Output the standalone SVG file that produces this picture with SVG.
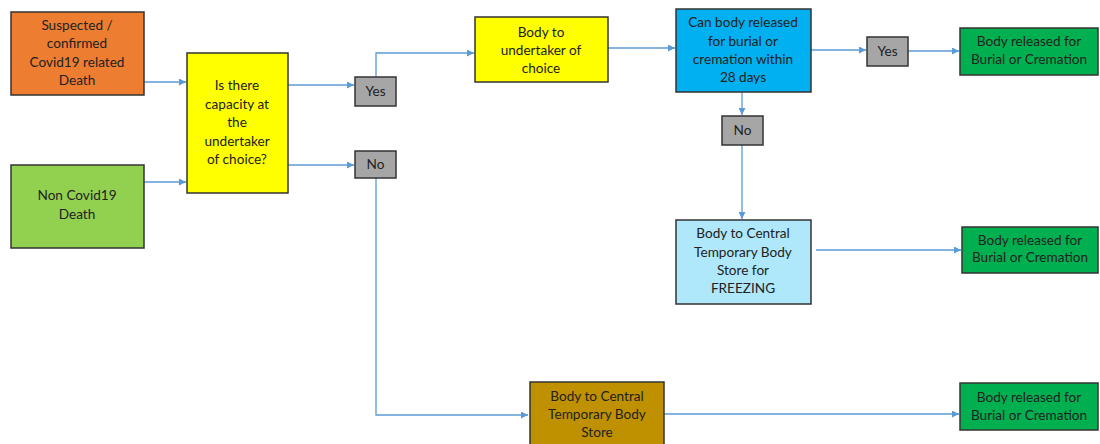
<svg xmlns="http://www.w3.org/2000/svg" width="1100" height="444" viewBox="0 0 1100 444">
<defs>
<marker id="ah" viewBox="0 0 10 10" refX="10" refY="5" markerWidth="7" markerHeight="7" markerUnits="userSpaceOnUse" orient="auto">
<path d="M0,0 L10,5 L0,10 z" fill="#5B9BD5"/>
</marker>
<style>
.b{stroke:#333;stroke-width:1.5}
.t{font-family:Lato,"Open Sans",sans-serif;font-size:13.6px;fill:#222;text-anchor:middle}
.c{fill:none;stroke:#5B9BD5;stroke-width:1.3}
.a{marker-end:url(#ah)}
</style>
</defs>
<rect width="1100" height="444" fill="#fff"/>
<g id="connectors">
<path class="c a" d="M144,82 H186"/>
<path class="c a" d="M144,182 H186"/>
<path class="c a" d="M288,85 H354"/>
<path class="c a" d="M288,165 H354"/>
<path class="c a" d="M376,77 V53 H474"/>
<path class="c a" d="M376,178 V415 H528"/>
<path class="c a" d="M608,48 H675"/>
<path class="c a" d="M811,50 H866"/>
<path class="c a" d="M908,51 H959"/>
<path class="c a" d="M742,92 V115"/>
<path class="c a" d="M742,145 V219"/>
<path class="c a" d="M816,250 H961"/>
<path class="c a" d="M664,414 H959"/>
</g>
<g id="covid">
<rect class="b" x="11" y="12" width="133" height="83" fill="#ED7D31"/>
<text class="t" x="77"><tspan x="77" y="30">Suspected /</tspan><tspan x="77" y="48">confirmed</tspan><tspan x="77" y="67">Covid19 related</tspan><tspan x="77" y="85">Death</tspan></text>
</g>
<g id="noncovid">
<rect class="b" x="11" y="165" width="133" height="83" fill="#92D050"/>
<text class="t"><tspan x="77" y="200">Non Covid19</tspan><tspan x="77" y="219">Death</tspan></text>
</g>
<g id="capacity">
<rect class="b" x="187" y="53" width="101" height="140" fill="#FFFF00"/>
<text class="t"><tspan x="237" y="90">Is there</tspan><tspan x="237" y="109">capacity at</tspan><tspan x="237" y="127">the</tspan><tspan x="237" y="146">undertaker</tspan><tspan x="237" y="164">of choice?</tspan></text>
</g>
<g id="yes1">
<rect class="b" x="355" y="77" width="41" height="29" fill="#A6A6A6"/>
<text class="t" x="375.5" y="96">Yes</text>
</g>
<g id="no1">
<rect class="b" x="355" y="151" width="41" height="27" fill="#A6A6A6"/>
<text class="t" x="375.5" y="169">No</text>
</g>
<g id="undertaker">
<rect class="b" x="475" y="17" width="133" height="65" fill="#FFFF00"/>
<text class="t"><tspan x="541" y="37">Body to</tspan><tspan x="541" y="55">undertaker of</tspan><tspan x="541" y="73">choice</tspan></text>
</g>
<g id="release28">
<rect class="b" x="676" y="9" width="135" height="83" fill="#00B0F0"/>
<text class="t"><tspan x="743" y="27">Can body released</tspan><tspan x="743" y="46">for burial or</tspan><tspan x="743" y="64">cremation within</tspan><tspan x="743" y="82">28 days</tspan></text>
</g>
<g id="yes2">
<rect class="b" x="867" y="37" width="41" height="29" fill="#A6A6A6"/>
<text class="t" x="887.5" y="56">Yes</text>
</g>
<g id="released1">
<rect class="b" x="960" y="28" width="138" height="47" fill="#00B050"/>
<text class="t"><tspan x="1029" y="46">Body released for</tspan><tspan x="1029" y="64">Burial or Cremation</tspan></text>
</g>
<g id="no2">
<rect class="b" x="722" y="116" width="41" height="29" fill="#A6A6A6"/>
<text class="t" x="742.5" y="135">No</text>
</g>
<g id="freezing">
<rect class="b" x="676" y="220" width="135" height="84" fill="#AEE8FA"/>
<text class="t"><tspan x="743" y="238">Body to Central</tspan><tspan x="743" y="257">Temporary Body</tspan><tspan x="743" y="275">Store for</tspan><tspan x="743" y="293">FREEZING</tspan></text>
</g>
<g id="released2">
<rect class="b" x="962" y="227" width="136" height="46" fill="#00B050"/>
<text class="t"><tspan x="1030" y="245">Body released for</tspan><tspan x="1030" y="262">Burial or Cremation</tspan></text>
</g>
<g id="store">
<rect class="b" x="530" y="382" width="134" height="70" fill="#BF9000"/>
<text class="t"><tspan x="597" y="401">Body to Central</tspan><tspan x="597" y="419">Temporary Body</tspan><tspan x="597" y="437">Store</tspan></text>
</g>
<g id="released3">
<rect class="b" x="960" y="383" width="138" height="47" fill="#00B050"/>
<text class="t"><tspan x="1029" y="402">Body released for</tspan><tspan x="1029" y="420">Burial or Cremation</tspan></text>
</g>
</svg>
